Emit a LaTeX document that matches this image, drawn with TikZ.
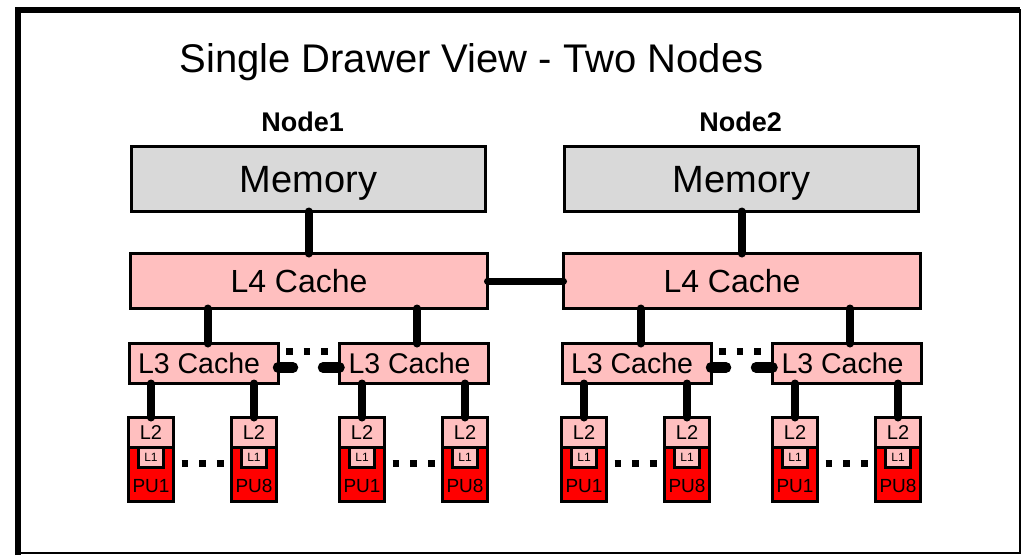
\documentclass[tikz,border=0pt]{standalone}
\usepackage{fontspec}
\setmainfont{Liberation Sans}
\definecolor{memgray}{RGB}{217,217,217}
\definecolor{cachepink}{RGB}{255,191,191}
\definecolor{pured}{RGB}{255,0,0}
\newcommand{\fs}[1]{\fontsize{#1}{#1}\selectfont}

\begin{document}
\begin{tikzpicture}[x=1pt,y=-1pt,
  box/.style={draw=black, line width=3pt, inner sep=0pt, outer sep=0pt, text depth=0pt},
  membox/.style={box, fill=memgray, minimum width=354pt, minimum height=65pt,
                 font=\fs{38}, text height=27.2pt, text depth=-5pt},
  l4box/.style={box, fill=cachepink, minimum width=357pt, minimum height=55pt,
                font=\fs{32}, text height=22.9pt, text depth=-4.5pt},
  l3box/.style={box, fill=cachepink, minimum width=149pt, minimum height=40pt,
                font=\fs{28.5}, text height=20.4pt, text depth=-2pt},
  l2box/.style={box, fill=cachepink, minimum width=45pt, minimum height=29.5pt,
                font=\fs{20}, text height=14.3pt},
  pubox/.style={box, fill=pured, minimum width=45pt, minimum height=54.5pt,
                font=\fs{19}, text height=37pt},
  l1box/.style={box, fill=cachepink, minimum width=25.5pt, minimum height=20pt,
                font=\fs{12}, text height=8.6pt, text depth=-2pt, anchor=north},
  bus/.style={line width=8pt, line cap=round},
  stub/.style={line width=10.5pt, line cap=round},
  dotrow/.style={line width=6.7pt, line cap=butt, dash pattern=on 6.7pt off 11pt},
]
\useasboundingbox (0,0) rectangle (1021,555);

% frame
\draw[line width=1.8pt] (18,9.8) rectangle (1020.2,553);
\draw[line width=6pt, line join=miter] (18,555) -- (18,9.8) -- (1020.2,9.8);

% headings
\node[font=\fs{40}, anchor=base] (title) at (471.5,72.3) {Single Drawer View - Two Nodes};
\node[font=\fs{27}\bfseries, anchor=base] (lab1) at (302.7,131.7) {Node1};
\node[font=\fs{27}\bfseries, anchor=base] (lab2) at (740.7,131.7) {Node2};

% the two nodes
\foreach \n/\dx in {1/0,2/433} {
  \begin{scope}[xshift=\dx pt]
    \node[membox] (mem\n) at (308.5,179) {Memory};
    \node[l4box] (lfour\n) at (309,281) {\hspace*{-20pt}L4 Cache};
    \node[l3box] (lthreea\n) at (203.5,363.5) {\hspace*{-9pt}L3 Cache};
    \node[l3box] (lthreeb\n) at (414,363.5) {\hspace*{-9pt}L3 Cache};
    \foreach \c/\xx/\lab in {a/151/1, b/254/8, c/362/1, d/465/8} {
      \node[l2box] (ltwo\n\c) at (\xx,432.25) {L2};
      \node[pubox] (pu\n\c) at (\xx,474.25) {PU\lab};
      \node[l1box] (lone\n\c) at (pu\n\c.north) {L1};
    }
  \end{scope}

  % links inside one node
  \draw[bus] (mem\n.south) -- (mem\n.south |- lfour\n.north);
  \draw[bus] ([xshift=4pt]lthreea\n.north) -- ([xshift=4pt]lthreea\n.north |- lfour\n.south);
  \draw[bus] ([xshift=3pt]lthreeb\n.north) -- ([xshift=3pt]lthreeb\n.north |- lfour\n.south);
  \foreach \c in {a,b} {
    \draw[bus] (ltwo\n\c.north) -- (ltwo\n\c.north |- lthreea\n.south);
  }
  \foreach \c in {c,d} {
    \draw[bus] (ltwo\n\c.north) -- (ltwo\n\c.north |- lthreeb\n.south);
  }
  \draw[stub] ([yshift=-4pt]lthreea\n.east) -- ++(15,0);
  \draw[stub] ([yshift=-4pt]lthreeb\n.west) -- ++(-16.5,0);
  \draw[dotrow] ([xshift=8pt,yshift=12pt]lthreea\n.east) -- ([xshift=-8pt,yshift=12pt]lthreeb\n.west);
  \draw[dotrow] ([xshift=8pt,yshift=11pt]pu\n a.east) -- ([xshift=-6pt,yshift=11pt]pu\n b.west);
  \draw[dotrow] ([xshift=8pt,yshift=11pt]pu\n c.east) -- ([xshift=-6pt,yshift=11pt]pu\n d.west);
}

% link between the two L4 caches
\draw[bus, line width=7pt] (lfour1.east) -- (lfour2.west);
\end{tikzpicture}
\end{document}
